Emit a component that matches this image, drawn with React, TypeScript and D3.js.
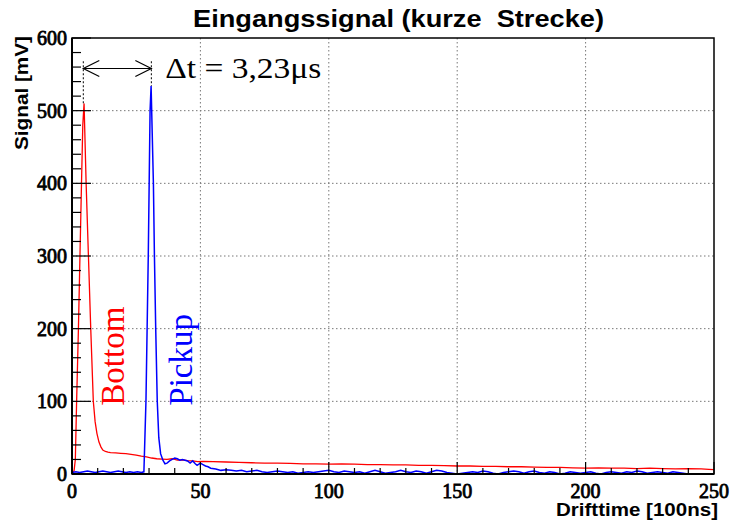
import React from "react";
import * as d3 from "d3";

const W = 734;
const H = 524;

const titleText = "Eingangssignal (kurze  Strecke)";
const xTitle = "Drifttime [100ns]";
const yTitle = "Signal [mV]";

const xMajorTicks = [0, 50, 100, 150, 200, 250];
const yMajorTicks = [0, 100, 200, 300, 400, 500, 600];

const redTime = [0, 0.8, 1.3, 1.8, 2.5, 3.1, 3.7, 4.2, 4.7, 5.5, 6.4, 7.3, 8.3, 9, 9.7, 10.5, 11.3, 12, 13, 14, 15, 17, 19, 21, 23, 25, 27, 29, 31, 33, 35, 37, 39, 41, 43, 45, 47, 49, 51, 55, 60, 65, 70, 75, 80, 85, 90, 95, 100, 105, 110, 115, 120, 125, 130, 135, 140, 145, 150, 155, 160, 165, 170, 175, 180, 185, 190, 195, 200, 205, 210, 215, 220, 225, 230, 235, 240, 245, 248, 250];
const redSignal = [3, 4, 20, 100, 200, 300, 400, 480, 510, 400, 300, 200, 100, 72, 56, 44, 37, 33, 31, 30, 29.5, 29, 28.5, 28, 27, 26, 24.5, 23.5, 22, 21, 20.5, 20, 21, 19, 19.5, 18.5, 18, 17, 17.5, 17, 16.5, 16, 15.5, 15, 15, 14.5, 14, 14, 13.7, 14, 13.5, 13, 13, 12.5, 12.5, 12, 12, 11.5, 11, 11, 10.5, 10.5, 10, 10, 9.5, 9, 9, 8.5, 8, 8.5, 8, 8, 7.5, 8, 7.5, 7, 7.5, 7, 6.5, 6];

const blueTime = [0, 1.5, 3, 4.5, 6, 7.5, 9, 10.5, 12, 13.5, 15, 16.5, 18, 19.5, 21, 22.5, 24, 25.5, 27, 28, 28.8, 29.7, 30.4, 30.8, 31.7, 32.1, 32.6, 33.2, 33.8, 34.5, 35.4, 36.2, 37, 38, 39, 40, 41, 42, 43, 44, 45, 46, 47, 48, 48.7, 50, 51, 52, 53, 54, 56, 58, 60, 62, 64, 66, 68, 70, 72, 74, 76, 78, 80, 82, 84, 86, 88, 90, 92, 94, 96, 98, 100, 102, 104, 106, 108, 110, 112, 114, 116, 118, 120, 122, 124, 126, 128, 130, 132, 134, 136, 138, 140, 142, 144, 146, 148, 150, 152, 154, 156, 158, 160, 162, 164, 166, 168, 170, 172, 174, 176, 178, 180, 182, 184, 186, 188, 190, 192, 194, 196, 198, 200, 202, 204, 206, 208, 210, 212, 214, 216, 218, 220, 222, 224, 226, 228, 230, 232, 234, 236, 238, 240, 242, 244, 246, 248, 250];
const blueSignal = [2, 3, 2, 3, 4, 3, 2, 3, 4, 3, 2, 3, 4, 3, 2, 3, 2, 3, 2, 3, 100, 300, 500, 534, 400, 300, 200, 100, 50, 28, 19, 14, 15, 18, 20, 22, 21, 19, 20, 19, 18, 15, 18, 14, 12, 15, 13, 11, 10, 8, 7, 5, 6, 5, 4, 5, 3, 4, 5, 3, 2, 3, 4, 3, 2, 3, 1, 2, 3, 2, 3, 4, 5, 3, 2, 4, 3, 2, 3, 1, 3, 5, 3, 1, 2, 3, 5, 3, 2, 4, 3, 1, 3, 5, 4, 2, 1, 0, 1, 2, 3, 2, 4, 3, 1, 0, 2, 3, 4, 3, 1, 3, 4, 2, 1, 3, 2, 0, 1, 3, 2, 1, 2, 3, 1, 0, 2, 3, 2, 1, 3, 2, 4, 3, 1, 2, 3, 2, 1, 3, 2, 1, 0, -1, 0, -1, 0, 0];

// annotation in data units
const arrowStart = 4.4;
const arrowEnd = 30.9;
const arrowLevel = 558;
const dashTop = 568;
const redPeak = { t: 4.4, v: 510 };
const bluePeak = { t: 30.9, v: 534 };
const deltaLabel = { t: 36.3, v: 545, text: "\u0394t = 3,23\u03bcs" };
const bottomLabel = { t: 20.2, v: 94, text: "Bottom" };
const pickupLabel = { t: 46.8, v: 94, text: "Pickup" };

export default function App() {
  const left = 72, right = 714, top = 38, bottom = 474;
  const x = d3.scaleLinear().domain([0, 250]).range([left, right]);
  const y = d3.scaleLinear().domain([0, 600]).range([bottom, top]);

  const xMinor = d3.range(0, 251, 10);
  const yMinor = d3.range(0, 601, 20);

  const line = d3
    .line<[number, number]>()
    .x((d) => x(d[0]))
    .y((d) => y(d[1]));
  const redPts = redTime.map((t, i) => [t, redSignal[i]] as [number, number]);
  const bluePts = blueTime.map((t, i) => [t, blueSignal[i]] as [number, number]);

  const sans = "Liberation Sans";
  const serif = "Liberation Serif";

  const ax1 = x(arrowStart), ax2 = x(arrowEnd), ay = y(arrowLevel);
  const headL = 16, headH = 8;

  return (
    <svg width={W} height={H} style={{ position: "absolute", left: 0, top: 0, background: "#fff" }}>
      <defs>
        <clipPath id="plotClip">
          <rect x={left} y={top} width={right - left} height={bottom - top} />
        </clipPath>
      </defs>
      <rect x={0} y={0} width={W} height={H} fill="#fff" />
      {xMajorTicks.slice(1, -1).map((t) => (
        <line key={"gx" + t} x1={x(t)} x2={x(t)} y1={top} y2={bottom} stroke="#777" strokeWidth={1} strokeDasharray="1.5,2.5" />
      ))}
      {yMajorTicks.slice(1, -1).map((v) => (
        <line key={"gy" + v} x1={left} x2={right} y1={y(v)} y2={y(v)} stroke="#777" strokeWidth={1} strokeDasharray="1.5,2.5" />
      ))}
      <g clipPath="url(#plotClip)">
        <path d={line(redPts) || ""} fill="none" stroke="#ff0000" strokeWidth={1.3} />
        <path d={line(bluePts) || ""} fill="none" stroke="#0000ff" strokeWidth={1.5} />
      </g>
      <rect x={left} y={top} width={right - left} height={bottom - top} fill="none" stroke="#000" strokeWidth={1.5} />
      <line x1={left} x2={left} y1={top} y2={bottom} stroke="#000" strokeWidth={2} />
      <line x1={left} x2={right} y1={bottom} y2={bottom} stroke="#000" strokeWidth={2} />
      {xMinor.map((t) => {
        const major = t % 50 === 0;
        return <line key={"xt" + t} x1={x(t)} x2={x(t)} y1={bottom} y2={bottom - (major ? 12 : 6)} stroke="#000" strokeWidth={1.2} />;
      })}
      {yMinor.map((v) => {
        const major = v % 100 === 0;
        return <line key={"yt" + v} x1={left} x2={left + (major ? 19 : 9)} y1={y(v)} y2={y(v)} stroke="#000" strokeWidth={1.2} />;
      })}
      {xMajorTicks.map((t) => (
        <text key={"xl" + t} x={x(t)} y={498} textAnchor="middle" fontFamily={serif} fontSize={20} stroke="#000" strokeWidth={0.8}>
          {t}
        </text>
      ))}
      {yMajorTicks.map((v) => (
        <text key={"yl" + v} x={67} y={y(v) + 7} textAnchor="end" fontFamily={serif} fontSize={20} stroke="#000" strokeWidth={0.8}>
          {v}
        </text>
      ))}
      <text x={193} y={27} fontFamily={sans} fontWeight={700} fontSize={23} textLength={411} lengthAdjust="spacingAndGlyphs" style={{ whiteSpace: "pre" }}>
        {titleText}
      </text>
      <text x={556} y={516} fontFamily={sans} fontWeight={700} fontSize={18} textLength={162} lengthAdjust="spacingAndGlyphs">
        {xTitle}
      </text>
      <text transform={`translate(28,150) rotate(-90)`} fontFamily={sans} fontWeight={700} fontSize={18.5} textLength={114} lengthAdjust="spacingAndGlyphs">
        {yTitle}
      </text>
      <line x1={ax1} x2={ax1} y1={y(dashTop)} y2={y(redPeak.v)} stroke="#000" strokeWidth={1} strokeDasharray="2,2" />
      <line x1={ax2} x2={ax2} y1={y(dashTop)} y2={y(bluePeak.v)} stroke="#000" strokeWidth={1} strokeDasharray="2,2" />
      <line x1={ax1} x2={ax2} y1={ay} y2={ay} stroke="#000" strokeWidth={1.2} />
      <polyline points={`${ax1 + headL},${ay - headH} ${ax1},${ay} ${ax1 + headL},${ay + headH}`} fill="none" stroke="#000" strokeWidth={1.2} />
      <polyline points={`${ax2 - headL},${ay - headH} ${ax2},${ay} ${ax2 - headL},${ay + headH}`} fill="none" stroke="#000" strokeWidth={1.2} />
      <text x={x(deltaLabel.t)} y={y(deltaLabel.v)} fontFamily={serif} fontSize={29} textLength={156} lengthAdjust="spacingAndGlyphs">
        {deltaLabel.text}
      </text>
      <text transform={`translate(${x(bottomLabel.t)},${y(bottomLabel.v)}) rotate(-90)`} fontFamily={serif} fontSize={33} fill="#ff0000">
        {bottomLabel.text}
      </text>
      <text transform={`translate(${x(pickupLabel.t)},${y(pickupLabel.v)}) rotate(-90)`} fontFamily={serif} fontSize={33} fill="#0000ff">
        {pickupLabel.text}
      </text>
    </svg>
  );
}
